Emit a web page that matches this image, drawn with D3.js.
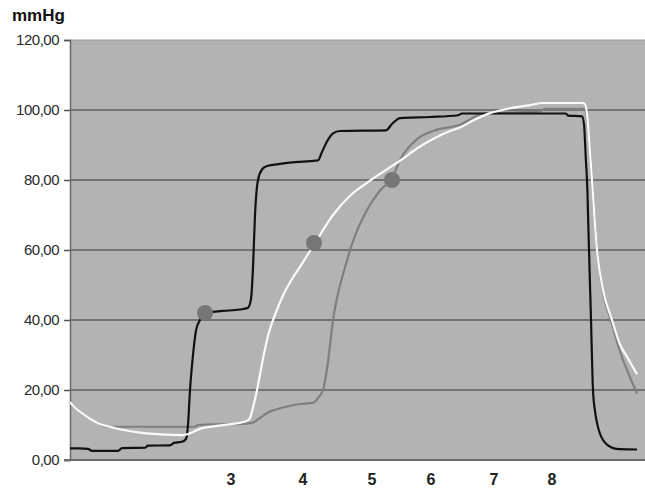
<!DOCTYPE html>
<html><head><meta charset="utf-8">
<script src="https://cdn.jsdelivr.net/npm/d3@7"></script>
<style>
body{margin:0;background:#fff;}
svg{display:block;font-family:"Liberation Sans",Arial,sans-serif;}
</style></head>
<body><svg id="c" width="645" height="491"></svg>
<script>
// time (s) / pressure (mmHg)
const yTicks = [0,20,40,60,80,100,120];
const xLabels = ["3","4","5","6","7","8"];
const xLabelPos = [16.1,23.3,30.2,36.1,42.4,48.2];

const blackSeries = [[0,3.3],[1.0,3.3],[1.8,3.2],[2.2,2.6],[4.8,2.6],[5.2,3.4],[7.5,3.5],[7.8,4.1],[10.0,4.2],[10.4,4.9],[11.2,5.2],[11.6,6.0],[11.8,10],[12.0,20],[12.3,30],[12.6,37],[13.0,40],[13.5,42],[14.2,42.3],[15.3,42.6],[17.0,43],[17.8,43.5],[18.1,46],[18.3,55],[18.5,70],[18.8,80],[19.2,83],[19.7,84],[21.0,84.6],[23.0,85.2],[24.8,85.6],[25.2,88],[25.7,91],[26.3,93.3],[27.0,94],[31.6,94.2],[32.2,96],[33.0,97.7],[36.0,98],[38.8,98.5],[39.2,99],[49.6,99],[49.8,98.4],[51.2,98.2],[51.4,96],[51.6,85],[51.7,80],[51.9,60],[52.1,40],[52.3,20],[52.5,14],[52.7,10.6],[53.0,7.5],[53.3,5.7],[53.8,4.2],[54.3,3.4],[55.0,3.1],[56.7,3.0]];

const whiteSeries = [[0,16.5],[0.5,15],[1.0,13.8],[2.0,11.8],[3.0,10.3],[4.3,9.3],[5.5,8.5],[7.0,7.8],[9.0,7.3],[11.3,7.1],[12.0,7.6],[13.0,8.9],[14.5,9.7],[16.3,10.3],[17.7,11.2],[18.0,12],[18.3,15],[18.7,20],[19.3,29],[19.8,35.5],[20.5,41.5],[21.3,47],[22.0,50.8],[23.0,55.2],[24.4,61.5],[26.3,70],[28.0,75.5],[29.7,79.2],[31.4,82.5],[33.0,85.5],[34.7,89],[36.3,91.7],[38.0,94],[39.0,95],[40.3,97],[42.0,99.1],[43.7,100.3],[46.0,101.4],[47.3,102],[51.2,102],[51.5,101.7],[51.8,96],[52.0,88],[52.2,80],[52.7,60],[53.3,48.6],[54.2,40],[55.0,33],[55.8,29],[56.7,24.5]];

const graySeries = [[0,16.5],[1.0,13.8],[2.0,11.8],[3.0,10.3],[3.6,9.6],[4.3,9.5],[12.5,9.5],[12.8,10],[15.0,10.2],[17.5,10.4],[18.2,10.6],[19.0,12],[19.7,13.4],[21.3,15],[23.0,16],[24.3,16.3],[24.8,17.7],[25.3,20],[25.8,28],[26.3,40],[26.8,47.5],[27.3,53],[28.3,62.5],[29.7,71.4],[31.0,77],[32.2,80.5],[33.0,85.7],[34.7,91.7],[36.3,94],[39.0,95.8],[41.3,98.9],[47.0,99.6],[47.5,100.3],[51.2,100.3],[51.5,100],[51.8,95],[52.2,80],[52.7,60],[53.3,48],[54.2,39],[55.0,31],[55.8,25],[56.7,19]];

const markers = [[13.5,42],[24.4,62],[32.2,80]];

const svg = d3.select("#c");
const x = d3.scaleLinear().domain([0,57.5]).range([70,645]);
const y = d3.scaleLinear().domain([0,120]).range([460,40]);

// plot background
svg.append("rect").attr("x",x(0)).attr("y",y(120)).attr("width",x(57.5)-x(0)).attr("height",y(0)-y(120))
  .attr("fill","#b3b3b3");
svg.append("line").attr("x1",x(0)).attr("x2",x(57.5)).attr("y1",y(120)).attr("y2",y(120))
  .attr("stroke","#9c9c9c").attr("stroke-width",1);

// gridlines
svg.append("g").selectAll("line").data(yTicks.filter(d=>d>0&&d<120)).join("line")
  .attr("x1",x(0)).attr("x2",x(57.5)).attr("y1",d=>y(d)).attr("y2",d=>y(d))
  .attr("stroke","#5e5e5e").attr("stroke-width",1.5);

// y axis
const yAxis = svg.append("g").attr("transform",`translate(${x(0)},0)`)
  .call(d3.axisLeft(y).tickValues(yTicks).tickSize(6).tickPadding(5)
    .tickFormat(d=>d3.format(".2f")(d).replace(".",",")));
yAxis.select(".domain").attr("stroke","#6a6a6a").attr("stroke-width",1.5);
yAxis.selectAll(".tick line").attr("stroke","#555").attr("stroke-width",1.5);
yAxis.selectAll(".tick text").attr("font-size",15).attr("letter-spacing","-0.5px")
  .attr("fill","#2a2a2a").attr("font-family","'Liberation Sans',Arial,sans-serif");

// x axis line
svg.append("line").attr("x1",x(0)-6).attr("x2",x(57.5)).attr("y1",y(0)).attr("y2",y(0))
  .attr("stroke","#6e6e6e").attr("stroke-width",2);

// x labels
svg.append("g").selectAll("text").data(xLabels).join("text")
  .attr("x",(d,i)=>x(xLabelPos[i])).attr("y",485).attr("text-anchor","middle")
  .attr("font-size",16).attr("font-weight","bold").attr("fill","#222").text(d=>d);

// unit label
svg.append("text").attr("x",12).attr("y",21).attr("font-size",17).attr("font-weight","bold")
  .attr("fill","#111").text("mmHg");

const line = d3.line().x(d=>x(d[0])).y(d=>y(d[1])).curve(d3.curveMonotoneX);
svg.append("path").datum(graySeries).attr("d",line).attr("fill","none").attr("stroke","#7f7f7f").attr("stroke-width",2.2);
svg.append("path").datum(blackSeries).attr("d",line).attr("fill","none").attr("stroke","#111").attr("stroke-width",2.2);
svg.append("path").datum(whiteSeries).attr("d",line).attr("fill","none").attr("stroke","#fafafa").attr("stroke-width",2.2);

svg.append("g").selectAll("circle").data(markers).join("circle")
  .attr("cx",d=>x(d[0])).attr("cy",d=>y(d[1])).attr("r",8).attr("fill","#767676");
</script></body></html>
